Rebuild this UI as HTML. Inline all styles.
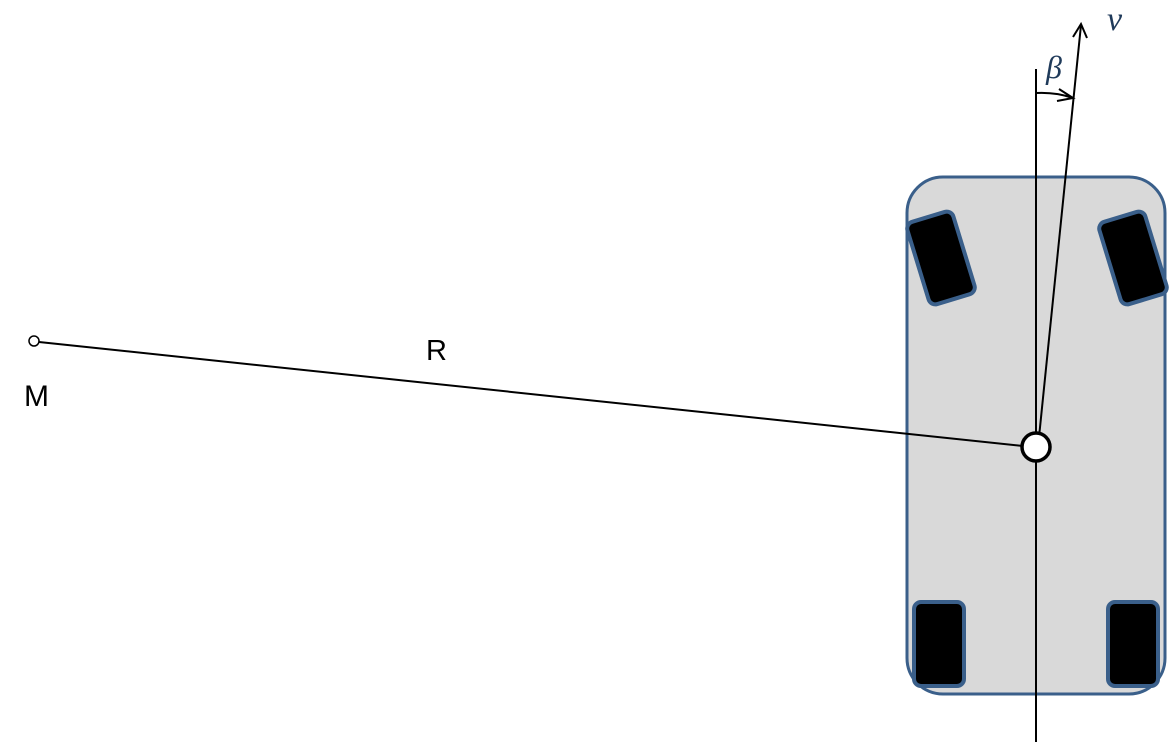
<!DOCTYPE html>
<html><head><meta charset="utf-8"><style>
html,body{margin:0;padding:0;background:#fff;width:1172px;height:743px;overflow:hidden}
svg{display:block}
</style></head><body>
<svg width="1172" height="743" viewBox="0 0 1172 743">
<rect x="907" y="177" width="258" height="517" rx="36" fill="#d9d9d9" stroke="#3a5f8a" stroke-width="3"/>
<g transform="translate(941,258) rotate(-17)">
<rect x="-24" y="-43" width="48" height="86" rx="7" fill="#000" stroke="#3a5f8a" stroke-width="4"/></g>
<g transform="translate(1133,258) rotate(-17)">
<rect x="-24" y="-43" width="48" height="86" rx="7" fill="#000" stroke="#3a5f8a" stroke-width="4"/></g>
<rect x="914" y="602" width="50" height="84" rx="7" fill="#000" stroke="#3a5f8a" stroke-width="4"/>
<rect x="1108" y="602" width="50" height="84" rx="7" fill="#000" stroke="#3a5f8a" stroke-width="4"/>
<line x1="1036" y1="69" x2="1036" y2="742" stroke="#000" stroke-width="2"/>
<line x1="1038" y1="447" x2="1081" y2="25" stroke="#000" stroke-width="2"/>
<polyline points="1073,37 1081,24 1087,38" fill="none" stroke="#000" stroke-width="2"/>
<path d="M1036,93 Q1056,92 1073,98" fill="none" stroke="#000" stroke-width="2"/>
<polyline points="1059,89 1073,98 1057,101" fill="none" stroke="#000" stroke-width="2"/>
<line x1="39" y1="342" x2="1023" y2="446" stroke="#000" stroke-width="2"/>
<circle cx="1036" cy="447" r="14" fill="#fff" stroke="#000" stroke-width="3.5"/>
<circle cx="34" cy="341" r="5" fill="#fff" stroke="#000" stroke-width="1.5"/>
<text x="426" y="360" font-family="Liberation Sans, sans-serif" font-size="29" fill="#000">R</text>
<text x="24" y="406" font-family="Liberation Sans, sans-serif" font-size="30" fill="#000">M</text>
<text x="1046" y="78" font-family="Liberation Serif, serif" font-style="italic" font-size="32" fill="#1f3a5a">β</text>
<text x="1107" y="30" font-family="Liberation Serif, serif" font-style="italic" font-size="34" fill="#1f3a5a">v</text>
</svg>
</body></html>
